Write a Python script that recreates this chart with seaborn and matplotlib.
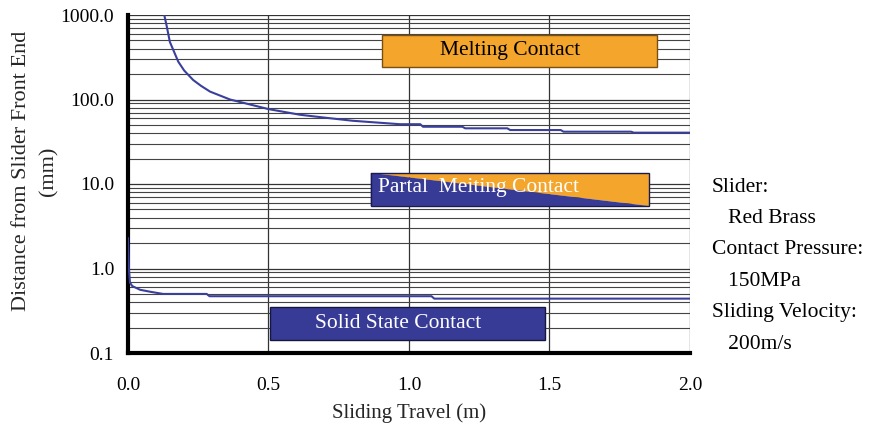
import numpy as np
import pandas as pd
import seaborn as sns
import matplotlib
matplotlib.use("Agg")
import matplotlib.pyplot as plt
from matplotlib.patches import Rectangle, Polygon
from matplotlib.ticker import LogLocator, NullFormatter, FixedLocator

# Upper curve: boundary of melting contact
upper_x = [0.125, 0.137, 0.149, 0.165, 0.179, 0.20, 0.232, 0.26, 0.292, 0.363, 0.43, 0.5,
           0.612, 0.7, 0.8, 0.968, 1.04, 1.05, 1.19, 1.2, 1.35, 1.36, 1.54, 1.55, 1.79, 1.8, 2.0]
upper_y = [1150, 760, 480, 360, 280, 220, 170, 145, 124, 100, 88, 77,
           66, 61, 56, 51, 51, 47.6, 47.6, 45.6, 45.6, 43.5, 43.5, 41.6, 41.6, 40.5, 40.5]

# Lower curve: boundary of solid state contact
lower_x = [0.0, 0.003, 0.007, 0.015, 0.043, 0.08, 0.125, 0.28, 0.29, 1.08, 1.09, 2.0]
lower_y = [2.3, 1.0, 0.68, 0.62, 0.56, 0.53, 0.50, 0.50, 0.47, 0.47, 0.44, 0.44]

x_ticks = [0.0, 0.5, 1.0, 1.5, 2.0]
x_labels = ["0.0", "0.5", "1.0", "1.5", "2.0"]
y_ticks = [0.1, 1.0, 10.0, 100.0, 1000.0]
y_labels = ["0.1", "1.0", "10.0", "100.0", "1000.0"]

note_lines = ["Slider:", "   Red Brass", "Contact Pressure:", "   150MPa",
              "Sliding Velocity:", "   200m/s"]

BLUE = "#373b96"
ORANGE = "#f4a52b"
LINE = "#3a3f9c"

sns.set_style("white")
plt.rcParams["font.family"] = ["Liberation Serif", "DejaVu Serif"]

fig = plt.figure(figsize=(8.7, 4.29), dpi=100)
ax = fig.add_axes([128/870, 1 - 353/429, (690-128)/870, (353-15)/429])

df_u = pd.DataFrame({"x": upper_x, "y": upper_y})
df_l = pd.DataFrame({"x": lower_x, "y": lower_y})
sns.lineplot(data=df_u, x="x", y="y", ax=ax, color=LINE, lw=1.5, estimator=None, sort=False, zorder=5)
sns.lineplot(data=df_l, x="x", y="y", ax=ax, color=LINE, lw=1.5, estimator=None, sort=False, zorder=5)

ax.set_yscale("log")
ax.set_xlim(0, 2.0)
ax.set_ylim(0.1, 1000)

ax.xaxis.set_major_locator(FixedLocator(x_ticks))
ax.set_xticklabels(x_labels)
ax.yaxis.set_major_locator(FixedLocator(y_ticks))
ax.set_yticklabels(y_labels)
ax.yaxis.set_minor_locator(LogLocator(base=10, subs=np.arange(2, 10)))
ax.yaxis.set_minor_formatter(NullFormatter())

ax.grid(which="major", axis="both", color="#333333", lw=0.9)
ax.grid(which="minor", axis="y", color="#444444", lw=0.8)
ax.set_axisbelow(True)

for s in ["top", "right"]:
    ax.spines[s].set_visible(False)
for s in ["left", "bottom"]:
    ax.spines[s].set_linewidth(3)
    ax.spines[s].set_color("black")

ax.tick_params(which="major", direction="in", length=7, width=3, labelsize=14, colors="black")
ax.tick_params(axis="x", pad=17)
ax.tick_params(axis="y", pad=10)
ax.tick_params(which="minor", length=0)

ax.set_xlabel("Sliding Travel (m)", fontsize=15, labelpad=7)
ax.set_ylabel("Distance from Slider Front End\n(mm)", fontsize=16, linespacing=1.6)
ax.yaxis.label.set_va("center")
ax.yaxis.set_label_coords(-0.165, 0.538)

tr = ax.transAxes
# Melting contact box
ax.add_patch(Rectangle((0.452, 0.846), 0.489, 0.095, transform=tr, facecolor=ORANGE,
                       edgecolor="#7a5010", lw=1.0, zorder=6))
ax.text(0.680, 0.8935, "Melting Contact", transform=tr, ha="center", va="center",
        fontsize=15.5, color="black", zorder=7)

# Partial melting box (diagonally split)
x0, x1, y0, y1 = 0.432, 0.927, 0.435, 0.533
ax.add_patch(Polygon([(x0, y1), (x1, y1), (x1, y0)], closed=True, transform=tr,
                     facecolor=ORANGE, edgecolor="none", zorder=6))
ax.add_patch(Polygon([(x0, y1), (x1, y0), (x0, y0)], closed=True, transform=tr,
                     facecolor=BLUE, edgecolor="none", zorder=6))
ax.add_patch(Rectangle((x0, y0), x1 - x0, y1 - y0, transform=tr, facecolor="none",
                       edgecolor="#1a1c50", lw=1.0, zorder=6))
ax.text(x0 + 0.012, 0.49, "Partal  Meiting Contact", transform=tr, ha="left", va="center",
        fontsize=15.5, color="white", zorder=7)

# Solid state box
ax.add_patch(Rectangle((0.253, 0.038), 0.489, 0.098, transform=tr, facecolor=BLUE,
                       edgecolor="#15173f", lw=1.0, zorder=6))
ax.text(0.4805, 0.087, "Solid State Contact", transform=tr, ha="center", va="center",
        fontsize=15.5, color="white", zorder=7)

# Side note
for i, t in enumerate(note_lines):
    fig.text(712/870, 1 - (187 + i*31.5)/429, t, fontsize=15.5, ha="left", va="center", color="black")

fig.savefig("out.png", dpi=100)
